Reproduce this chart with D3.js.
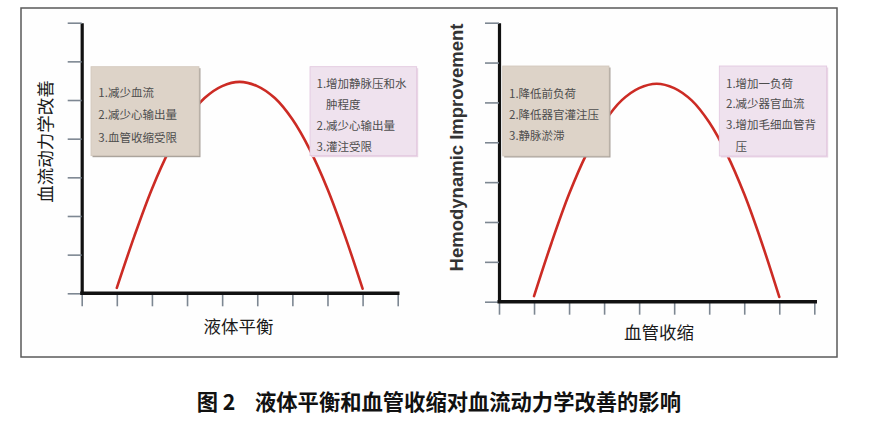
<!DOCTYPE html>
<html><head><meta charset="utf-8">
<script src="https://cdn.jsdelivr.net/npm/d3@7"></script>
<style>
html,body{margin:0;padding:0;background:#fff;}
svg{display:block;}
</style></head>
<body>
<svg id="chart" width="888" height="424"></svg>
<script>
// ---- data ----
const xTickValues = [0, 1, 2, 3, 4, 5, 6, 7, 8, 9];
const yTickValues = [0, 1, 2, 3, 4, 5, 6, 7];
const curveX = [1, 1.5, 2, 2.5, 3, 3.5, 4, 4.5, 5, 5.5, 6, 6.5, 7, 7.5, 8];
const curveY = [0.14, 1.48, 2.70, 3.71, 4.50, 5.05, 5.36, 5.47, 5.36, 5.05, 4.50, 3.71, 2.70, 1.48, 0.12];
const xTitles = ["液体平衡", "血管收缩"];
const yTitles = ["血流动力学改善", "Hemodynamic Improvement"];
const leftNotes = [
  ["1.减少血流", "2.减少心输出量", "3.血管收缩受限"],
  ["1.降低前负荷", "2.降低器官灌注压", "3.静脉淤滞"]
];
const rightNotes = [
  ["1.增加静脉压和水", "肿程度", "2.减少心输出量", "3.灌注受限"],
  ["1.增加一负荷", "2.减少器官血流", "3.增加毛细血管背", "压"]
];
const captionFig = "图 2";
const captionText = "液体平衡和血管收缩对血流动力学改善的影响";

// ---- layout ----
const svg = d3.select("#chart");
const cjk = "'Noto Sans CJK SC','Noto Sans',sans-serif";

svg.append("rect").attr("x", 21).attr("y", 8).attr("width", 816).attr("height", 349)
  .attr("fill", "#fefefe").attr("stroke", "#5a5a5a").attr("stroke-width", 1.5);

const panels = [
  { x0: 81.7, x1: 397.7, y0: 293.3, y1: 22.7, xEnd: 399.5,
    yTitle: { x: 44, y: 141.5, font: cjk, size: 17.5, weight: 400, color: "#1a1a1a" },
    xTitle: { x: 238.5, y: 325 },
    boxL: { x: 91, y: 66.7, w: 108, h: 89, tx: 98.3, ly: [92, 114.3, 136.7] },
    boxR: { x: 310, y: 66.7, w: 106.7, h: 89, tx: 316.5, ly: [83.3, 104, 125, 146] } },
  { x0: 499, x1: 814.3, y0: 301.7, y1: 22.7, xEnd: 817,
    yTitle: { x: 463, y: 147.5, font: "'Liberation Sans',Arial,sans-serif", size: 18.5, weight: 700, color: "#333" , latin: true},
    xTitle: { x: 659, y: 331.7 },
    boxL: { x: 502.7, y: 66, w: 106.3, h: 90, tx: 509, ly: [93.3, 114, 135] },
    boxR: { x: 719.3, y: 66, w: 107.4, h: 90, tx: 726, ly: [82.7, 103.3, 124.3, 145.7] } }
];

panels.forEach((p, i) => {
  const g = svg.append("g");
  const x = d3.scaleLinear().domain([0, 9]).range([p.x0, p.x1]);
  const y = d3.scaleLinear().domain([0, 7]).range([p.y0, p.y1]);

  // ticks
  const ya = g.append("g").attr("transform", `translate(${p.x0},0)`)
    .call(d3.axisLeft(y).tickValues(yTickValues).tickSize(14).tickSizeOuter(0).tickFormat(""));
  ya.selectAll(".tick line").attr("stroke", "#7d8792").attr("stroke-width", 1.6);
  ya.select(".domain").attr("stroke", "#111").attr("stroke-width", 3.2);

  const xa = g.append("g").attr("transform", `translate(0,${p.y0})`)
    .call(d3.axisBottom(x).tickValues(xTickValues).tickSize(13).tickSizeOuter(0).tickFormat(""));
  xa.selectAll(".tick line").attr("stroke", "#7d8792").attr("stroke-width", 1.6);
  xa.select(".domain").remove();
  g.append("line").attr("x1", p.x0 - 1.5).attr("x2", p.xEnd).attr("y1", p.y0).attr("y2", p.y0)
    .attr("stroke", "#111").attr("stroke-width", 3.6);

  // curve
  const pts = curveX.map((d, k) => [d, curveY[k]]);
  g.append("path").datum(pts)
    .attr("d", d3.line().x(d => x(d[0])).y(d => y(d[1])).curve(d3.curveCatmullRom.alpha(0.5)))
    .attr("fill", "none").attr("stroke", "#cc2b24").attr("stroke-width", 2.6).attr("stroke-linecap", "round");

  // boxes
  const drawBox = (b, lines, fill, stroke, shadow) => {
    g.append("rect").attr("x", b.x + 1.5).attr("y", b.y + 1.5).attr("width", b.w).attr("height", b.h)
      .attr("fill", shadow);
    g.append("rect").attr("x", b.x).attr("y", b.y).attr("width", b.w).attr("height", b.h)
      .attr("fill", fill).attr("stroke", stroke).attr("stroke-width", 0.8);
    lines.forEach((t, k) => {
      const indent = /^\d/.test(t) ? 0 : 9.5;
      g.append("text").attr("x", b.tx + indent).attr("y", b.ly[k])
        .attr("dominant-baseline", "central")
        .style("font-family", cjk).style("font-size", "11.5px").attr("fill", "#4d4d4d")
        .text(t);
    });
  };
  drawBox(p.boxL, leftNotes[i], "#ddd3c8", "#d2c7bb", "#a7a09a");
  drawBox(p.boxR, rightNotes[i], "#efe2ee", "#e2c6de", "#ead6e6");

  // titles
  const yt = p.yTitle;
  g.append("text").attr("transform", `translate(${yt.x},${yt.y}) rotate(-90)`)
    .attr("text-anchor", "middle")
    .attr("dominant-baseline", yt.latin ? "alphabetic" : "central")
    .style("font-family", yt.font).style("font-size", yt.size + "px").style("font-weight", yt.weight)
    .attr("fill", yt.color).text(yTitles[i]);

  g.append("text").attr("x", p.xTitle.x).attr("y", p.xTitle.y)
    .attr("text-anchor", "middle").attr("dominant-baseline", "central")
    .style("font-family", cjk).style("font-size", "17.5px").attr("fill", "#1a1a1a")
    .text(xTitles[i]);
});

// caption
const cap = svg.append("text").attr("y", 400).attr("dominant-baseline", "central")
  .style("font-family", cjk).style("font-size", "21.3px").style("font-weight", 700).attr("fill", "#111");
cap.append("tspan").attr("x", 196.7).text(captionFig);
cap.append("tspan").attr("x", 255).text(captionText);
</script>
</body></html>
